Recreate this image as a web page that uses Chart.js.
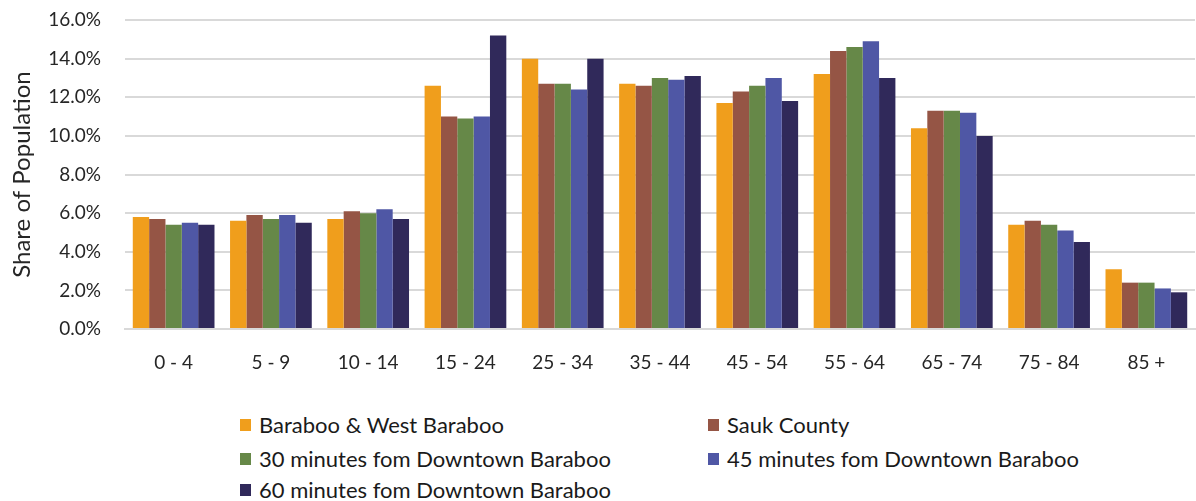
<!DOCTYPE html>
<html>
<head>
<meta charset="utf-8">
<script src="https://cdn.jsdelivr.net/npm/chart.js@4"></script>
<style>
  html, body { margin: 0; padding: 0; background: #ffffff; }
  body { width: 1196px; height: 501px; position: relative; overflow: hidden; font-family: Lato, "Open Sans", sans-serif; }
  #wrap { position: absolute; left: 0; top: 0; width: 1196px; height: 390px; }
  #legend { position: absolute; left: 240px; top: 411px; width: 950px; }
  .item { position: absolute; display: flex; align-items: center; font-size: 22px; color: #1a1a1a; white-space: nowrap; }
  .box { width: 11px; height: 12px; margin-right: 8px; }
</style>
</head>
<body>
<div id="wrap"><canvas id="chart"></canvas></div>
<div id="legend"></div>
<script>
// Age groups
const ageGroups = ['0 - 4', '5 - 9', '10 - 14', '15 - 24', '25 - 34', '35 - 44', '45 - 54', '55 - 64', '65 - 74', '75 - 84', '85 +'];

// Share of population (%) per age group
const barabooWest = [5.8, 5.6, 5.7, 12.6, 14.0, 12.7, 11.7, 13.2, 10.4, 5.4, 3.1];
const saukCounty  = [5.7, 5.9, 6.1, 11.0, 12.7, 12.6, 12.3, 14.4, 11.3, 5.6, 2.4];
const within30    = [5.4, 5.7, 6.0, 10.9, 12.7, 13.0, 12.6, 14.6, 11.3, 5.4, 2.4];
const within45    = [5.5, 5.9, 6.2, 11.0, 12.4, 12.9, 13.0, 14.9, 11.2, 5.1, 2.1];
const within60    = [5.4, 5.5, 5.7, 15.2, 14.0, 13.1, 11.8, 13.0, 10.0, 4.5, 1.9];

const seriesNames = [
  'Baraboo & West Baraboo',
  'Sauk County',
  '30 minutes fom Downtown Baraboo',
  '45 minutes fom Downtown Baraboo',
  '60 minutes fom Downtown Baraboo'
];
const seriesValues = [barabooWest, saukCounty, within30, within45, within60];
const seriesColors = ['#F09E1C', '#955545', '#668848', '#4F57A5', '#30295A'];

// Y axis ticks
const yTickMax = 16;
const yTickStep = 2;

const fontFamily = 'Lato, "Open Sans", sans-serif';

const chart = new Chart(document.getElementById('chart'), {
  type: 'bar',
  data: {
    labels: ageGroups,
    datasets: seriesNames.map((name, i) => ({
      label: name,
      data: seriesValues[i],
      backgroundColor: seriesColors[i],
      borderWidth: 0,
      categoryPercentage: 0.84,
      barPercentage: 1.0
    }))
  },
  options: {
    responsive: true,
    maintainAspectRatio: false,
    animation: false,
    layout: { padding: { top: 20, right: 1, bottom: 0, left: 0 } },
    plugins: {
      legend: { display: false },
      tooltip: { enabled: false }
    },
    scales: {
      x: {
        grid: { display: false, drawTicks: false },
        border: { display: true, color: '#d9d9d9', width: 2 },
        ticks: {
          color: '#262626',
          font: { family: fontFamily, size: 19 },
          padding: 22,
          maxRotation: 0
        },
        afterFit: s => { s.height = 61; }
      },
      y: {
        min: 0,
        max: yTickMax,
        grid: { color: '#d9d9d9', lineWidth: 2, drawTicks: false },
        border: { display: false },
        ticks: {
          stepSize: yTickStep,
          color: '#262626',
          font: { family: fontFamily, size: 19 },
          padding: 24,
          callback: v => v.toFixed(1) + '%'
        },
        title: {
          display: true,
          text: 'Share of Population',
          color: '#262626',
          font: { family: fontFamily, size: 24 },
          padding: { top: 8, bottom: 0 }
        },
        afterFit: s => {
          s.width = 125;
          s.paddingTop = 0;
          s.paddingBottom = 0;
        }
      }
    }
  }
});

// Two-column legend built from the datasets
const legend = document.getElementById('legend');
const colX = [0, 468];
const rowY = [0, 34, 65];
chart.data.datasets.forEach((ds, i) => {
  const item = document.createElement('div');
  item.className = 'item';
  item.style.left = colX[i % 2] + 'px';
  item.style.top = rowY[Math.floor(i / 2)] + 'px';
  const box = document.createElement('span');
  box.className = 'box';
  box.style.background = ds.backgroundColor;
  const label = document.createElement('span');
  label.textContent = ds.label;
  item.appendChild(box);
  item.appendChild(label);
  legend.appendChild(item);
});
</script>
</body>
</html>
